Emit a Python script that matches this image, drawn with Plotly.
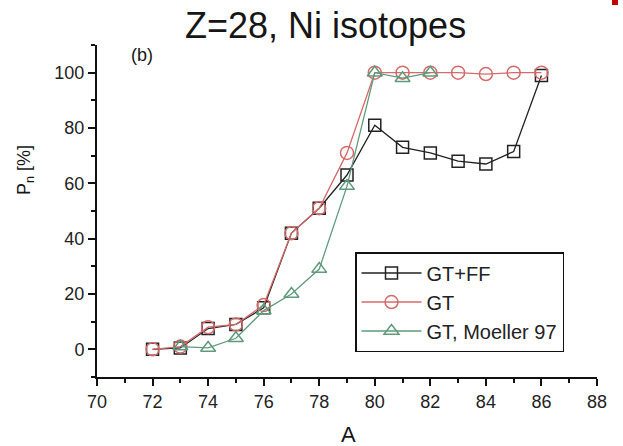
import plotly.graph_objects as go

A_ff = [72, 73, 74, 75, 76, 77, 78, 79, 80, 81, 82, 83, 84, 85, 86]
P_gtff = [0, 0.5, 7.5, 9, 15, 42, 51, 63, 81, 73, 71, 68, 67, 71.5, 99]

A_gt = [72, 73, 74, 75, 76, 77, 78, 79, 80, 81, 82, 83, 84, 85, 86]
P_gt = [0, 1, 8, 9, 16, 42, 51, 71, 100, 100, 100, 100, 99.5, 100, 100]

A_m = [73, 74, 75, 76, 77, 78, 79, 80, 81, 82]
P_m = [1, 0.5, 4, 14, 20, 29, 59, 100, 98, 100]

names = ["GT+FF", "GT", "GT, Moeller 97"]
x_ticks = list(range(70, 89, 2))
y_ticks = [0, 20, 40, 60, 80, 100]

FONT = "Liberation Sans, Arial, sans-serif"

fig = go.Figure()
fig.add_trace(go.Scatter(x=A_ff, y=P_gtff, name=names[0], mode="lines+markers",
                         line=dict(color="#222222", width=1.3),
                         marker=dict(symbol="square-open", size=12, color="#222222", line=dict(width=1.5))))
fig.add_trace(go.Scatter(x=A_gt, y=P_gt, name=names[1], mode="lines+markers",
                         line=dict(color="#d46a6a", width=1.3),
                         marker=dict(symbol="circle-open", size=13, color="#d46a6a", line=dict(width=1.5))))
fig.add_trace(go.Scatter(x=A_m, y=P_m, name=names[2], mode="lines+markers",
                         line=dict(color="#5f9a7c", width=1.3),
                         marker=dict(symbol="triangle-up-open", size=13, color="#5f9a7c", line=dict(width=1.5))))

axis_common = dict(showline=True, linecolor="#111111", linewidth=2, ticks="outside",
                   ticklen=7, tickwidth=2, tickcolor="#111111", showgrid=False, zeroline=False,
                   tickfont=dict(family=FONT, size=18, color="#222222"))

fig.update_xaxes(range=[70, 88], tickvals=x_ticks, **axis_common,
                 minor=dict(dtick=1, ticks="outside", ticklen=4, tickwidth=2, tickcolor="#111111", showgrid=False))
fig.update_yaxes(range=[-10, 110], tickvals=y_ticks, **axis_common,
                 minor=dict(tickvals=[-10, 10, 30, 50, 70, 90, 110], ticks="outside", ticklen=4, tickwidth=2, tickcolor="#111111", showgrid=False))

def ann(text, xpx, ypx, size, angle=0):
    return dict(text=text, x=(xpx - 97) / 500, y=(377 - ypx) / 332, xref="paper", yref="paper",
                xanchor="center", yanchor="middle", showarrow=False, textangle=angle,
                font=dict(family=FONT, size=size, color="#161616"))

fig.update_layout(
    width=623, height=446,
    margin=dict(l=97, r=26, t=45, b=69),
    paper_bgcolor="white", plot_bgcolor="white",
    showlegend=True,
    legend=dict(x=0.516, y=0.3765, xanchor="left", yanchor="top",
                bordercolor="#111111", borderwidth=1.5, bgcolor="white",
                font=dict(family=FONT, size=20, color="#222222"),
                tracegroupgap=0, itemwidth=60),
    annotations=[
        ann("Z=28, Ni isotopes", 325, 26, 36),
        ann("(b)", 142, 55, 18),
        ann("A", 348, 434, 22),
        ann("P<sub>n</sub> [%]", 25, 170, 18, -90),
    ],
    shapes=[dict(type="rect", xref="paper", yref="paper", x0=1.03, x1=1.042, y0=1.1205, y1=1.14,
                 fillcolor="#c00000", line=dict(width=0))],
)

fig.write_html("out.html", config={"displayModeBar": False},
               post_script="document.body.style.margin='0';")
